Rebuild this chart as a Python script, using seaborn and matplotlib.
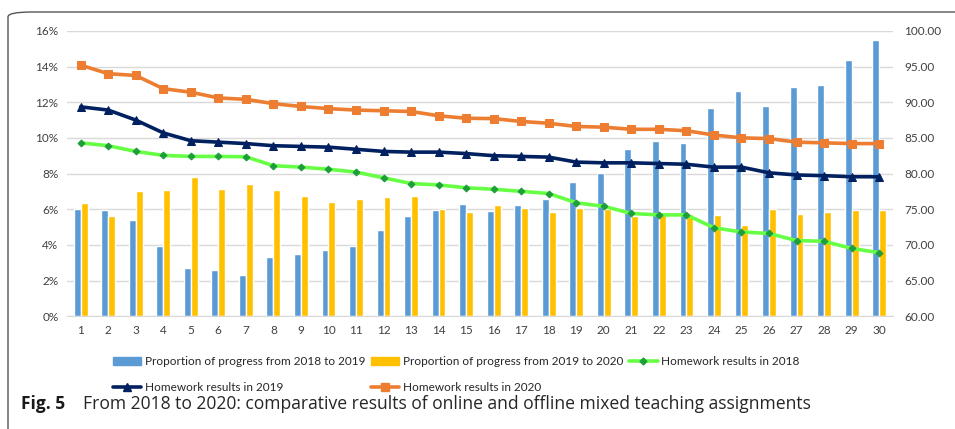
import matplotlib
matplotlib.use('Agg')
import matplotlib.pyplot as plt
import numpy as np
import pandas as pd
import seaborn as sbn
from matplotlib.patches import Patch, FancyBboxPatch
from matplotlib.lines import Line2D
from matplotlib.ticker import FuncFormatter

students = list(range(1, 31))

# proportion of progress (%), left axis
progress_18_19 = [6.0, 5.95, 5.37, 3.91, 2.71, 2.6, 2.32, 3.33, 3.48, 3.73,
                  3.95, 4.81, 5.64, 5.97, 6.29, 5.9, 6.25, 6.57, 7.51, 8.02,
                  9.38, 9.81, 9.7, 11.65, 12.64, 11.8, 12.88, 12.96, 14.38, 15.5]
progress_19_20 = [6.37, 5.63, 7.02, 7.08, 7.83, 7.12, 7.4, 7.08, 6.76, 6.42,
                  6.57, 6.69, 6.76, 6.01, 5.82, 6.25, 6.05, 5.86, 6.05, 6.01,
                  5.63, 5.8, 5.75, 5.67, 5.09, 6.01, 5.75, 5.84, 5.96, 5.96]

# homework results, right axis
results_2018 = [84.3, 83.9, 83.1, 82.55, 82.4, 82.4, 82.35, 81.1, 80.9, 80.6,
                80.2, 79.4, 78.6, 78.4, 78.0, 77.8, 77.5, 77.2, 75.9, 75.4,
                74.4, 74.2, 74.2, 72.4, 71.8, 71.6, 70.6, 70.5, 69.5, 68.9]
results_2019 = [89.35, 88.9, 87.5, 85.7, 84.6, 84.4, 84.2, 83.9, 83.8, 83.7,
                83.4, 83.1, 83.0, 83.0, 82.8, 82.5, 82.4, 82.3, 81.6, 81.5,
                81.5, 81.4, 81.3, 80.9, 80.9, 80.1, 79.8, 79.7, 79.55, 79.55]
results_2020 = [95.2, 94.0, 93.75, 91.9, 91.4, 90.6, 90.4, 89.8, 89.4, 89.1,
                88.9, 88.8, 88.7, 88.1, 87.75, 87.7, 87.3, 87.05, 86.6, 86.5,
                86.2, 86.2, 86.0, 85.4, 85.0, 84.9, 84.4, 84.3, 84.2, 84.2]

bar_names = ['Proportion of progress from 2018 to 2019',
             'Proportion of progress from 2019 to 2020']
line_names = ['Homework results in 2018', 'Homework results in 2019',
              'Homework results in 2020']

bars = pd.DataFrame({
    'student': students * 2,
    'value': progress_18_19 + progress_19_20,
    'series': [bar_names[0]] * 30 + [bar_names[1]] * 30,
})

sbn.set_style('white')
plt.rcParams['font.family'] = ['Lato', 'DejaVu Sans']

bar_colors = ['#5B9BD5', '#FFC000']
line_styles = [
    dict(color='#66FF44', marker='D', markersize=3.5, markerfacecolor='#1E9E3A',
         markeredgecolor='#1E9E3A', linewidth=2.6),
    dict(color='#002060', marker='^', markersize=5.5, markerfacecolor='#002060',
         markeredgecolor='#002060', linewidth=2.6),
    dict(color='#ED7D31', marker='s', markersize=6, markerfacecolor='#ED7D31',
         markeredgecolor='#ED7D31', linewidth=2.6),
]
text_col = '#404040'

fig = plt.figure(figsize=(9.55, 4.29), dpi=100)
ax = fig.add_axes([0.070, 0.263, 0.865, 0.665])

sbn.barplot(data=bars, x='student', y='value', hue='series', hue_order=bar_names,
            palette=bar_colors, width=0.5, gap=0, saturation=1, legend=False,
            ax=ax, zorder=2)
ax.set_xlim(-0.5, 29.5)
ax.set_ylim(0, 16)
ax.set_yticks(np.arange(0, 17, 2))
ax.yaxis.set_major_formatter(FuncFormatter(lambda v, _: f'{v:.0f}%'))
ax.grid(axis='y', color='#D9D9D9', linewidth=1, zorder=0)
ax.set_axisbelow(True)
ax.set_xlabel('')
ax.set_ylabel('')
for s in ['top', 'right', 'left']:
    ax.spines[s].set_visible(False)
ax.spines['bottom'].set_color('#D9D9D9')
ax.tick_params(axis='both', length=0, labelsize=8.5, colors=text_col, pad=6)

ax2 = ax.twinx()
xs = np.arange(30)
for name, vals, st in zip(line_names, [results_2018, results_2019, results_2020], line_styles):
    sbn.lineplot(x=xs, y=vals, ax=ax2, legend=False, **st)
ax2.set_ylim(60, 100)
ax2.set_yticks(np.arange(60, 101, 5))
ax2.yaxis.set_major_formatter(FuncFormatter(lambda v, _: f'{v:.2f}'))
ax2.set_ylabel('')
for s in ax2.spines.values():
    s.set_visible(False)
ax2.tick_params(axis='y', length=0, labelsize=8.5, colors=text_col, pad=8)

handles = [Patch(color=bar_colors[0]), Patch(color=bar_colors[1])]
handles += [Line2D([], [], **st) for st in line_styles]
labels = bar_names + line_names
order = [0, 3, 1, 4, 2]
fig.legend([handles[i] for i in order], [labels[i] for i in order],
           loc='upper left', bbox_to_anchor=(0.112, 0.183), ncol=3, frameon=False,
           fontsize=8.5, handlelength=2.4, handletextpad=0.3, columnspacing=0.5,
           labelspacing=1.25, borderpad=0, labelcolor='#262626')

fig.text(0.022, 0.046, 'Fig. 5', fontsize=12.5, fontweight='bold', color='#1a1a1a',
         family=['Open Sans', 'DejaVu Sans'])
fig.text(0.087, 0.046, 'From 2018 to 2020: comparative results of online and offline mixed teaching assignments',
         fontsize=12.65, color='#262626', family=['Open Sans', 'DejaVu Sans'])

frame = FancyBboxPatch((8 / 955, -0.2), 1.2, 1.2 - 12 / 429 + 0.0,
                       boxstyle='round,pad=0,rounding_size=0.025',
                       transform=fig.transFigure, fill=False,
                       edgecolor='#555555', linewidth=1.0, mutation_aspect=429 / 955)
fig.patches.append(frame)

fig.savefig('out.png', dpi=100)
